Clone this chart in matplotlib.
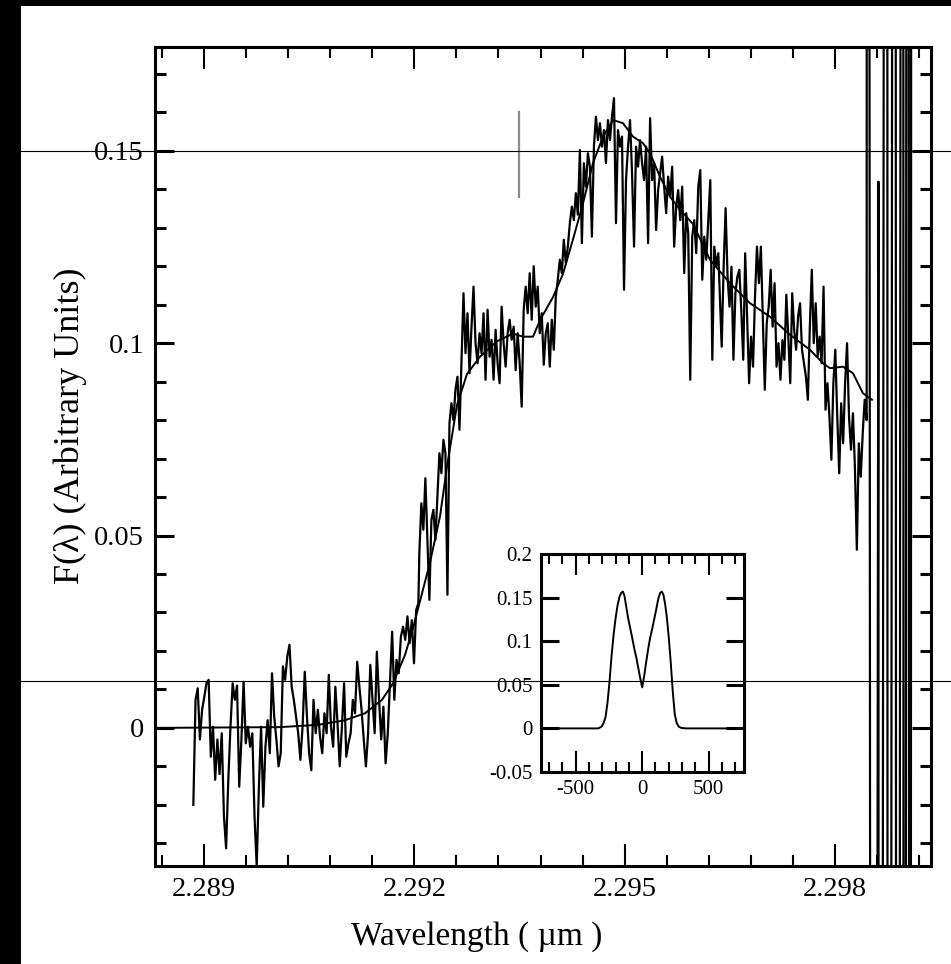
import numpy as np
import matplotlib
matplotlib.use("Agg")
import matplotlib.pyplot as plt
from matplotlib.ticker import MultipleLocator, FixedLocator, FixedFormatter
from matplotlib.lines import Line2D
from matplotlib.patches import Rectangle

plt.rcParams['font.family'] = ['Liberation Serif', 'DejaVu Serif']

# ---------------- data ----------------
# observed spectrum, three contiguous pieces (start, end wavelength in micron)
seg1_range = (2.288847, 2.292057)
seg1_flux = [-0.020, 0.0073, 0.0103, -0.003, 0.0047, 0.008, 0.0116, 0.0125, -0.0075, 0.0003,
             -0.0135, -0.003, -0.012, -0.0014, -0.023, -0.0313, -0.0135, 0.0003, 0.0116, 0.0073,
             0.011, -0.0153, -0.003, 0.012, -0.004, 0.0003, -0.0049, -0.0014, -0.023, -0.036,
             -0.0153, 0.0003, -0.0205, -0.0049, 0.002, -0.0066, 0.0142, 0.003, -0.003, -0.010,
             -0.0066, 0.016, 0.0125, 0.0185, 0.0216, 0.0107, 0.0073, 0.003, -0.0014, -0.0083,
             0.0003, 0.0146, 0.003, -0.0066, -0.011, 0.0073, -0.0014, 0.0047, -0.0023, -0.0066,
             0.0038, -0.0014, 0.0138, 0.0003, -0.0049, 0.0107, 0.0012, -0.010, 0.0003, 0.0116,
             -0.0075, -0.004, -0.0014, 0.0073, 0.0038, 0.0172, 0.0107, 0.0047, -0.003, -0.010,
             -0.0014, 0.0164, 0.0073, -0.0014, 0.0198, 0.0073, -0.003, 0.0055, -0.0092, -0.0014,
             0.0116, 0.025, 0.0073, 0.0177, 0.0142, 0.0237, 0.0263, 0.0229, 0.029, 0.022,
             0.028, 0.0168, 0.0307, 0.0324]

seg2_range = (2.292071, 2.296336)
seg2_flux = [0.0454, 0.0584, 0.0515, 0.0649, 0.0489, 0.0333, 0.054, 0.0567, 0.0489, 0.0601,
             0.0714, 0.0662, 0.0749, 0.0714, 0.0346, 0.0792, 0.0844, 0.08, 0.0879, 0.0913,
             0.0775, 0.0948, 0.113, 0.0974, 0.1078, 0.0922, 0.1043, 0.1147, 0.10, 0.0948,
             0.1026, 0.0974, 0.1078, 0.0905, 0.1087, 0.0965, 0.1009, 0.0905, 0.1035, 0.0948,
             0.0896, 0.1095, 0.10, 0.0939, 0.1026, 0.1061, 0.1009, 0.1043, 0.093, 0.1026,
             0.0948, 0.0835, 0.1087, 0.1147, 0.1078, 0.1182, 0.1061, 0.12, 0.1095, 0.1147,
             0.1026, 0.1078, 0.0944, 0.1026, 0.1052, 0.0939, 0.1061, 0.0983, 0.1121, 0.1165,
             0.1217, 0.1182, 0.1269, 0.1208, 0.1251, 0.1312, 0.1355, 0.132, 0.139, 0.1334,
             0.1502, 0.126, 0.1468, 0.1407, 0.1494, 0.1459, 0.1277, 0.1511, 0.1589, 0.1528,
             0.1572, 0.1511, 0.1554, 0.1468, 0.158, 0.1528, 0.1589, 0.1637, 0.1312, 0.1554,
             0.1511, 0.1537, 0.1139, 0.1424, 0.1511, 0.158, 0.1442, 0.1251, 0.1511, 0.1459,
             0.1528, 0.1468, 0.1424, 0.1511, 0.126, 0.1585, 0.1424, 0.1468, 0.1294, 0.1398,
             0.1442, 0.1485, 0.1407, 0.1338, 0.1433, 0.1381, 0.1459, 0.1251, 0.1355, 0.1398,
             0.132, 0.1407, 0.1182, 0.1338, 0.1286, 0.0905, 0.1277, 0.132, 0.1234, 0.1407,
             0.145, 0.1165, 0.1277, 0.1217, 0.132, 0.1424, 0.0957, 0.1251, 0.12, 0.1234]

seg3_range = (2.296384, 2.298452)
seg3_flux = [0.0991, 0.1199, 0.1351, 0.1173, 0.1095, 0.1199, 0.0957, 0.113, 0.1173, 0.1191,
             0.1087, 0.0957, 0.1234, 0.1069, 0.0896, 0.1017, 0.0939, 0.1121, 0.1251, 0.1156,
             0.1251, 0.1069, 0.0879, 0.1052, 0.1095, 0.1191, 0.1043, 0.1156, 0.0939, 0.10,
             0.0905, 0.1008, 0.0957, 0.1126, 0.1017, 0.0896, 0.113, 0.1035, 0.0983, 0.1069,
             0.1104, 0.0983, 0.0948, 0.0913, 0.0853, 0.1043, 0.1191, 0.10, 0.1104, 0.0965,
             0.1017, 0.0948, 0.1147, 0.0827, 0.0896, 0.0809, 0.0697, 0.0896, 0.0983, 0.0809,
             0.0662, 0.0844, 0.074, 0.0896, 0.10, 0.0809, 0.0723, 0.0818, 0.0679, 0.0463,
             0.074, 0.0653, 0.0766, 0.0853, 0.0800]

# off-scale end of the spectrum (detector edge)
tail_wave = [2.298461, 2.298538, 2.298620, 2.298628, 2.298742, 2.298756, 2.298856,
             2.298884, 2.298970, 2.298984, 2.299041, 2.299070, 2.299098]
tail_flux = [1.0, -1.0, 0.142, -1.0, 1.0, -1.0, 1.0, -1.0, 1.0, -1.0, 1.0, -1.0, 1.0]

# model fit
fit_wave = [2.288301, 2.290084, 2.290626, 2.291011, 2.291296, 2.291539, 2.291696, 2.291867,
            2.291981, 2.292081, 2.292223, 2.292366, 2.292466, 2.292609, 2.292751, 2.292937,
            2.293179, 2.293407, 2.29355, 2.293693, 2.293792, 2.293978, 2.29412, 2.294263,
            2.294406, 2.294548, 2.294691, 2.294834, 2.294976, 2.295119, 2.295261, 2.295361,
            2.295504, 2.295647, 2.295789, 2.295975, 2.296217, 2.296502, 2.296788, 2.297073,
            2.297358, 2.297643, 2.297829, 2.297929, 2.298114, 2.298257, 2.298399, 2.298528]
fit_flux = [0.0, 0.0002, 0.0008, 0.002, 0.0038, 0.0073, 0.0116, 0.019,
            0.026, 0.033, 0.043, 0.055, 0.068, 0.084, 0.092, 0.0965,
            0.1005, 0.1025, 0.1017, 0.1017, 0.106, 0.112, 0.118, 0.127,
            0.1364, 0.1468, 0.1537, 0.158, 0.1572, 0.1537, 0.152, 0.1494,
            0.1433, 0.1381, 0.1347, 0.131, 0.1217, 0.1156, 0.1104, 0.1069,
            0.1022, 0.0983, 0.0948, 0.0935, 0.0939, 0.0922, 0.087, 0.0853]

# line position marker
marker_wave = 2.293493
marker_flux = [0.138, 0.160]

# inset: model line profile vs velocity (km/s)
inset_vel = [-760, -330, -305, -290, -275, -260, -245, -230, -215, -200, -185, -170, -157,
             -145, -133, -120, -105, -90, -75, -60, -45, -30, -15, 0, 15, 30, 45, 60, 75, 90,
             105, 120, 135, 148, 160, 172, 185, 200, 215, 230, 245, 260, 275, 295, 330, 760]
inset_flux = [0.0, 0.0, 0.002, 0.006, 0.013, 0.03, 0.054, 0.083, 0.107, 0.126, 0.141, 0.151,
              0.1555, 0.157, 0.152, 0.14, 0.126, 0.115, 0.104, 0.092, 0.082, 0.07, 0.058, 0.047,
              0.06, 0.076, 0.091, 0.104, 0.114, 0.125, 0.136, 0.148, 0.1555, 0.157, 0.153, 0.143,
              0.128, 0.104, 0.075, 0.042, 0.016, 0.006, 0.002, 0.0005, 0.0, 0.0]

xticks = [2.289, 2.292, 2.295, 2.298]
xticklabels = ["2.289", "2.292", "2.295", "2.298"]
yticks = [0.0, 0.05, 0.1, 0.15]
yticklabels = ["0", "0.05", "0.1", "0.15"]
in_xticks = [-500, 0, 500]
in_xticklabels = ["-500", "0", "500"]
in_yticks = [-0.05, 0.0, 0.05, 0.1, 0.15, 0.2]
in_yticklabels = ["-0.05", "0", "0.05", "0.1", "0.15", "0.2"]

# ---------------- figure ----------------
W, H = 951, 964
fig = plt.figure(figsize=(W / 100, H / 100), dpi=100)
fig.patch.set_facecolor('white')

ax = fig.add_axes([155 / W, 1 - 866 / H, 776 / W, 819 / H])

wave = np.concatenate([np.linspace(*seg1_range, len(seg1_flux)),
                       np.linspace(*seg2_range, len(seg2_flux)),
                       np.linspace(*seg3_range, len(seg3_flux)),
                       np.array(tail_wave)])
flux = np.concatenate([seg1_flux, seg2_flux, seg3_flux, tail_flux])

ax.plot(wave, flux, color='black', lw=1.6, zorder=2)
ax.plot(fit_wave, fit_flux, color='black', lw=1.4, zorder=3)
ax.plot([marker_wave, marker_wave], marker_flux, color='#8a8a8a', lw=1.6, zorder=3)

ax.set_xlim(2.28830, 2.29937)
ax.set_ylim(-0.0359, 0.177)

ax.xaxis.set_major_locator(FixedLocator(xticks))
ax.xaxis.set_major_formatter(FixedFormatter(xticklabels))
ax.xaxis.set_minor_locator(MultipleLocator(0.0006))
ax.yaxis.set_major_locator(FixedLocator(yticks))
ax.yaxis.set_major_formatter(FixedFormatter(yticklabels))
ax.yaxis.set_minor_locator(MultipleLocator(0.01))

ax.tick_params(which='both', direction='in', top=True, right=True, labelsize=20.5, colors='black')
ax.tick_params(axis='x', which='major', length=16, width=1.5, pad=8)
ax.tick_params(axis='x', which='minor', length=8, width=1.5)
ax.tick_params(axis='y', which='major', length=14, width=2.2, pad=8)
ax.tick_params(axis='y', which='minor', length=8, width=2.2)
for s in ax.spines.values():
    s.set_linewidth(2.2)

ax.set_xlabel("Wavelength ( \u00b5m )", fontsize=24)
ax.set_ylabel("F(\u03bb) (Arbitrary Units)", fontsize=26)
ax.xaxis.set_label_coords(0.415, -0.068)
ax.yaxis.set_label_coords(-0.088, 0.538)

# inset
axin = fig.add_axes([541 / W, 1 - 772 / H, 203 / W, 218 / H])
axin.plot(inset_vel, inset_flux, color='black', lw=1.4)
axin.set_xlim(-760, 765)
axin.set_ylim(-0.05, 0.2)
axin.xaxis.set_major_locator(FixedLocator(in_xticks))
axin.xaxis.set_major_formatter(FixedFormatter(in_xticklabels))
axin.xaxis.set_minor_locator(MultipleLocator(100))
axin.yaxis.set_major_locator(FixedLocator(in_yticks))
axin.yaxis.set_major_formatter(FixedFormatter(in_yticklabels))
axin.tick_params(which='both', direction='in', top=True, right=True, labelsize=15)
axin.tick_params(axis='x', which='major', length=15, width=1.5, pad=6)
axin.tick_params(axis='x', which='minor', length=7, width=1.5)
axin.tick_params(axis='y', which='major', length=13, width=2.2, pad=6)
for s in axin.spines.values():
    s.set_linewidth(2.2)

# page artefacts: black margins and two horizontal rules
fig.add_artist(Rectangle((0, 0), 21 / W, 1, transform=fig.transFigure,
                         facecolor='black', edgecolor='none', zorder=10))
fig.add_artist(Rectangle((0, 1 - 6 / H), 1, 6 / H, transform=fig.transFigure,
                         facecolor='black', edgecolor='none', zorder=10))
for ypx in (151, 680.5):
    fig.add_artist(Line2D([21 / W, 1], [1 - ypx / H] * 2, transform=fig.transFigure,
                          color='black', lw=0.8, zorder=9))

fig.savefig("out.png", dpi=100)
